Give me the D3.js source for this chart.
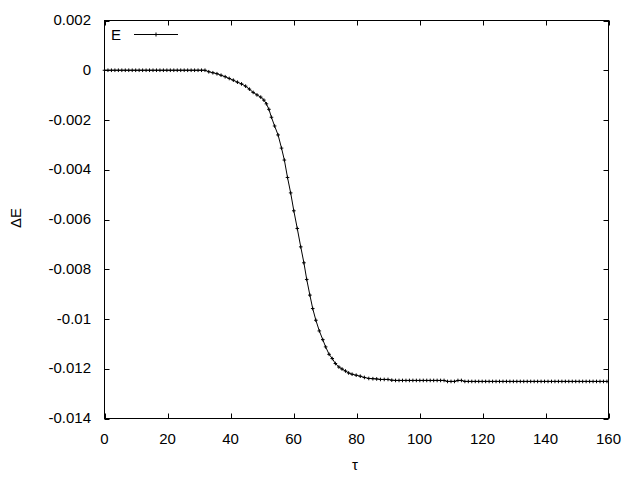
<!DOCTYPE html>
<html>
<head>
<meta charset="utf-8">
<script src="https://cdn.jsdelivr.net/npm/d3@7"></script>
<style>
  html, body { margin: 0; padding: 0; background: #fff; }
  svg { display: block; }
  text { font-family: "Liberation Sans", Arial, sans-serif; fill: #000; }
</style>
</head>
<body>
<svg id="chart" width="640" height="480"></svg>
<script>
// ---- data ----
const seriesName = "E";
const tau = [
  0,1.1,2.2,3.3,4.4,5.5,6.6,7.7,8.8,9.9,11,12.1,13.2,14.3,15.4,16.5,17.6,18.7,19.8,20.9,
  22,23.1,24.2,25.3,26.4,27.5,28.6,29.7,30.8,31.9,
  33.1,34.4,35.7,37.0,38.3,39.6,40.9,42.2,43.5,44.8,46.0,47.2,48.4,49.6,50.6,51.4,52.2,53.0,
  54.0,55.1,56.2,57.1,58.1,59.1,60.1,61.2,62.3,63.3,64.2,65.2,66.1,67.1,68.2,69.3,70.2,71.3,
  72.3,73.3,74.4,75.4,76.5,77.5,78.6,79.9,81.2,82.5,83.9,85.2,86.4,87.6,88.8,90.0,91.2,92.4,
  93.5,94.6,95.7,96.8,97.9,99.0,100.1,101.2,102.3,103.4,104.5,105.6,106.7,107.8,
  108.9,110.0,111.1,112.2,113.3,114.4,
  115.5,116.6,117.7,118.8,119.9,121.0,122.1,123.2,124.3,125.4,126.5,127.6,128.7,129.8,130.9,
  132.0,133.1,134.2,135.3,136.4,137.5,138.6,139.7,140.8,141.9,143.0,144.1,145.2,146.3,147.4,
  148.5,149.6,150.7,151.8,152.9,154.0,155.1,156.2,157.3,158.4,159.5
];
const dE = [
  0,0,0,0,0,0,0,0,0,0,0,0,0,0,0,0,0,0,0,0,
  0,0,0,0,0,0,0,0,0,0,
  -0.00006,-0.00010,-0.00014,-0.00020,-0.00026,-0.00033,-0.00040,-0.00048,-0.00055,-0.00064,
  -0.00076,-0.00089,-0.00099,-0.00108,-0.00120,-0.00135,-0.00157,-0.00189,
  -0.00224,-0.00260,-0.00313,-0.00361,-0.00431,-0.00493,-0.00565,-0.00636,-0.00710,-0.00774,
  -0.00841,-0.00904,-0.00958,-0.01005,-0.01048,-0.01083,-0.01112,-0.01142,
  -0.01159,-0.01179,-0.01193,-0.01201,-0.01209,-0.01217,-0.01222,-0.01226,-0.01230,-0.01235,
  -0.01239,-0.01240,-0.01241,-0.01243,-0.01243,-0.01243,-0.01246,-0.01247,
  -0.01247,-0.01247,-0.01247,-0.01247,-0.01247,-0.01247,-0.01247,-0.01247,-0.01247,-0.01247,
  -0.01247,-0.01247,-0.01247,-0.01247,
  -0.01251,-0.01251,-0.01251,-0.01247,-0.01247,-0.01251,
  -0.01251,-0.01251,-0.01251,-0.01251,-0.01251,-0.01251,-0.01251,-0.01251,-0.01251,-0.01251,
  -0.01251,-0.01251,-0.01251,-0.01251,-0.01251,
  -0.01251,-0.01251,-0.01251,-0.01251,-0.01251,-0.01251,-0.01251,-0.01251,-0.01251,-0.01251,
  -0.01251,-0.01251,-0.01251,-0.01251,-0.01251,
  -0.01251,-0.01251,-0.01251,-0.01251,-0.01251,-0.01251,-0.01251,-0.01251,-0.01251,-0.01251,-0.01251
];
const xTicks = [0,20,40,60,80,100,120,140,160];
const yTicks = [0.002,0,-0.002,-0.004,-0.006,-0.008,-0.01,-0.012,-0.014];
const yTickLabels = ["0.002","0","-0.002","-0.004","-0.006","-0.008","-0.01","-0.012","-0.014"];
const xTitle = "τ";
const yTitle = "ΔE";

// ---- drawing ----
const svg = d3.select("#chart");
const L = 104.5, R = 608.5, T = 20.5, B = 418.5;
const x = d3.scaleLinear().domain([0,160]).range([L,R]);
const y = d3.scaleLinear().domain([-0.014,0.002]).range([B,T]);
const tickLen = 5;
const fs = 15;

// ticks (inward, mirrored)
const g = svg.append("g").attr("stroke","#000").attr("stroke-width",1).attr("fill","none");
xTicks.forEach(v => {
  const px = Math.round(x(v)) + 0.5;
  g.append("line").attr("x1",px).attr("x2",px).attr("y1",B).attr("y2",B-tickLen);
  g.append("line").attr("x1",px).attr("x2",px).attr("y1",T).attr("y2",T+tickLen);
});
yTicks.forEach(v => {
  const py = Math.round(y(v)) + 0.5;
  g.append("line").attr("y1",py).attr("y2",py).attr("x1",L).attr("x2",L+tickLen);
  g.append("line").attr("y1",py).attr("y2",py).attr("x1",R).attr("x2",R-tickLen);
});
// frame
g.append("rect").attr("x",L).attr("y",T).attr("width",R-L).attr("height",B-T);

// tick labels
svg.append("g").selectAll("text").data(xTicks).join("text")
  .attr("x", d => x(d)).attr("y", 438)
  .attr("text-anchor","middle").attr("dominant-baseline","central")
  .attr("font-size", fs).text(d => String(d));
svg.append("g").selectAll("text").data(yTicks).join("text")
  .attr("x", 91).attr("y", d => y(d) - 1)
  .attr("text-anchor","end").attr("dominant-baseline","central")
  .attr("font-size", fs).text((d,i) => yTickLabels[i]);

// axis titles
svg.append("text").attr("x",355).attr("y",464)
  .attr("text-anchor","middle").attr("dominant-baseline","central")
  .attr("font-size", fs).text(xTitle);
svg.append("text").attr("transform","translate(15,218) rotate(-90)")
  .attr("text-anchor","middle").attr("dominant-baseline","central")
  .attr("font-size", fs).text(yTitle);

// data line
const pts = tau.map((t,i) => [t, dE[i]]);
const line = d3.line().x(d => x(d[0])).y(d => y(d[1]));
svg.append("path").datum(pts).attr("d", line)
  .attr("fill","none").attr("stroke","#000").attr("stroke-width",1);

// '+' markers
const m = 1.8;
svg.append("g").selectAll("path").data(pts).join("path")
  .attr("d", d => {
    const px = x(d[0]), py = y(d[1]);
    return `M${px-m},${py}H${px+m}M${px},${py-m}V${py+m}`;
  })
  .attr("stroke","#000").attr("stroke-width",1).attr("fill","none");

// legend
svg.append("text").attr("x",111).attr("y",34)
  .attr("dominant-baseline","central").attr("font-size", fs).text(seriesName);
svg.append("line").attr("x1",134).attr("x2",178).attr("y1",34.5).attr("y2",34.5)
  .attr("stroke","#000").attr("stroke-width",1);
svg.append("path").attr("d","M154,34.5H158M156,32.5V36.5")
  .attr("stroke","#000").attr("stroke-width",1);
</script>
</body>
</html>
